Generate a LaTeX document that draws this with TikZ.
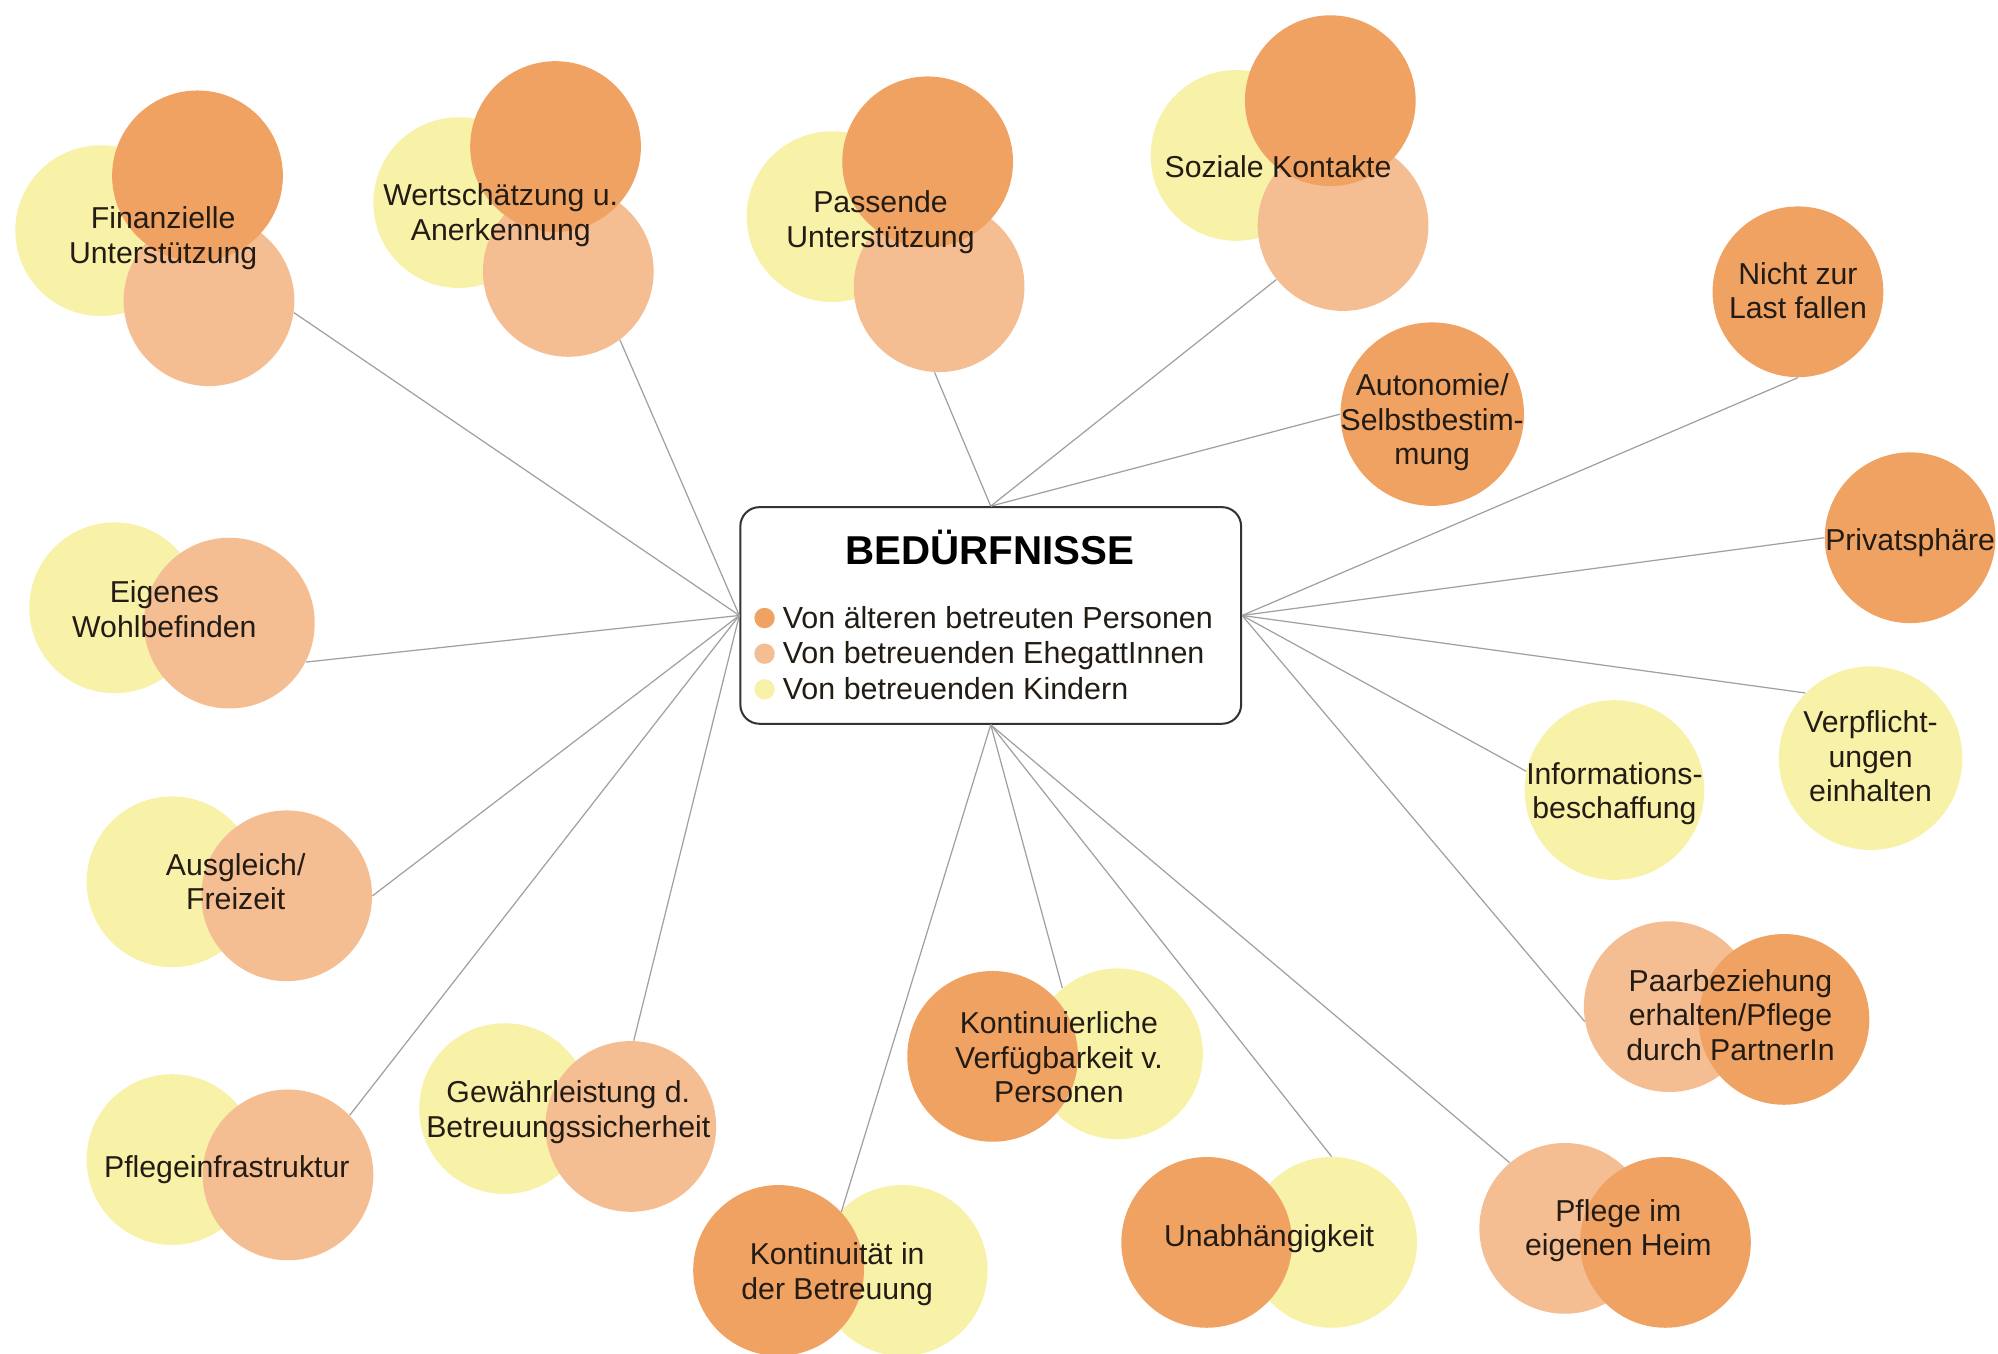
\documentclass[tikz,border=0pt]{standalone}
\usepackage{fontspec}
\setmainfont{Liberation Sans}
\definecolor{pdark}{HTML}{F0A263}
\definecolor{plight}{HTML}{F5BD92}
\definecolor{pyel}{HTML}{F8F1A8}
\definecolor{ink}{HTML}{231C14}
\definecolor{edge}{HTML}{A0A0A0}
\begin{document}
\begin{tikzpicture}[x=0.2mm,y=-0.2mm,
  bub/.style={circle,inner sep=0pt,minimum size=26.8mm},
  dk/.style={bub,fill=pdark},
  lt/.style={bub,fill=plight},
  yl/.style={bub,fill=pyel},
  lbl/.style={align=center,text=ink,font=\fontsize{13.5}{15.4}\selectfont,inner sep=0pt},
  lgd/.style={text=ink,font=\fontsize{13.6}{15.9}\selectfont,inner sep=0pt},
  dot/.style={circle,inner sep=0pt,minimum size=3.2mm},
  conn/.style={draw=edge,line width=0.55pt},
  hubbox/.style={draw=black!80,line width=0.9pt,rounded corners=3mm,fill=white,
                 minimum width=78.6mm,minimum height=34mm,inner sep=0pt},
]
\useasboundingbox (0,0) rectangle (1568,1062);

% --- needs seen from three sides (children, spouses, older persons) ---
\node[yl] (fin-y) at (79,181) {};
\node[lt] (fin-l) at (164,236) {};
\node[dk] (fin-d) at (155,138) {};
\node[lbl] (fin) at (128,187) {Finanzielle\\Unterstützung};

\node[yl] (wert-y) at (360,159) {};
\node[lt] (wert-l) at (446,213) {};
\node[dk] (wert-d) at (436,115) {};
\node[lbl] (wert) at (393,169) {Wertschätzung u.\\Anerkennung};

\node[yl] (pass-y) at (653,170) {};
\node[lt] (pass-l) at (737,225) {};
\node[dk] (pass-d) at (728,127) {};
\node[lbl] (pass) at (691,174.5) {Passende\\Unterstützung};

\node[yl] (soz-y) at (970,122) {};
\node[lt] (soz-l) at (1054,177) {};
\node[dk] (soz-d) at (1044,79) {};
\node[lbl] (soz) at (1003,131) {Soziale Kontakte};

% --- needs of older persons only ---
\node[dk,minimum size=28.8mm] (auto) at (1124,325) {};
\node[lbl] (auto-t) at (1124,331.5) {Autonomie/\\Selbstbestim-\\mung};

\node[dk] (last) at (1411,229) {};
\node[lbl] (last-t) at (1411,228) {Nicht zur\\Last fallen};

\node[dk] (priv) at (1499,422) {};
\node[lbl] (priv-t) at (1499,426) {Privatsphäre};

% --- needs of children only ---
\node[yl,minimum size=28.8mm] (verpf) at (1468,595) {};
\node[lbl] (verpf-t) at (1468,593.5) {Verpflicht-\\ungen\\einhalten};

\node[yl,minimum size=28.2mm] (info) at (1267,620) {};
\node[lbl] (info-t) at (1267,623) {Informations-\\beschaffung};

% --- older persons and spouses ---
\node[lt] (paar-l) at (1310,790) {};
\node[dk] (paar-d) at (1400,800) {};
\node[lbl] (paar) at (1358,796.5) {Paarbeziehung\\erhalten/Pflege\\durch PartnerIn};

\node[lt] (heim-l) at (1228,964) {};
\node[dk] (heim-d) at (1307,975) {};
\node[lbl] (heim) at (1270,966) {Pflege im\\eigenen Heim};

% --- older persons and children ---
\node[yl] (unab-y) at (1045,975) {};
\node[dk] (unab-d) at (947,975) {};
\node[lbl] (unab) at (996,972) {Unabhängigkeit};

\node[yl] (kont-y) at (708,997) {};
\node[dk] (kont-d) at (611,997) {};
\node[lbl] (kont) at (657,1000) {Kontinuität in\\der Betreuung};

\node[yl] (verf-y) at (877,827) {};
\node[dk] (verf-d) at (779,829) {};
\node[lbl] (verf) at (831,830) {Kontinuierliche\\Verfügbarkeit v.\\Personen};

% --- spouses and children ---
\node[yl] (gew-y) at (396,870) {};
\node[lt] (gew-l) at (495,884) {};
\node[lbl] (gew) at (446,873) {Gewährleistung d.\\Betreuungssicherheit};

\node[yl] (pfl-y) at (135,910) {};
\node[lt] (pfl-l) at (226,922) {};
\node[lbl] (pfl) at (178,918) {Pflegeinfrastruktur};

\node[yl] (ausg-y) at (135,692) {};
\node[lt] (ausg-l) at (225,703) {};
\node[lbl] (ausg) at (185,692) {Ausgleich/\\Freizeit};

\node[yl] (eig-y) at (90,477) {};
\node[lt] (eig-l) at (180,489) {};
\node[lbl] (eig) at (129,478) {Eigenes\\Wohlbefinden};

% --- central box with legend ---
\node[hubbox] (hub) at (777.5,483) {};
\node[text=black,font=\bfseries\fontsize{18}{20}\selectfont,inner sep=0pt] (title) at (777,430) {BEDÜRFNISSE};
\node[dot,fill=pdark] (d1) at (600,485) {};
\node[dot,fill=plight] (d2) at (600,513) {};
\node[dot,fill=pyel] (d3) at (600,541) {};
\node[lgd,anchor=base west] (l1) at (614,493) {Von älteren betreuten Personen};
\node[lgd,anchor=base west] (l2) at (614,521) {Von betreuenden EhegattInnen};
\node[lgd,anchor=base west] (l3) at (614,549) {Von betreuenden Kindern};

% --- connectors ---
\draw[conn] (hub.west) -- (fin-l.-8);
\draw[conn] (hub.west) -- (wert-l.-53);
\draw[conn] (hub.west) -- (eig-l.-27);
\draw[conn] (hub.west) -- (ausg-l.0);
\draw[conn] (hub.west) -- (pfl-l.44);
\draw[conn] (hub.west) -- (gew-l.88);
\draw[conn] (hub.north) -- (pass-l.-93);
\draw[conn] (hub.north) -- (soz-l.-141);
\draw[conn] (hub.north) -- (auto.180);
\draw[conn] (hub.east) -- (last.-90);
\draw[conn] (hub.east) -- (priv.180);
\draw[conn] (hub.east) -- (verpf.135);
\draw[conn] (hub.east) -- (info.168);
\draw[conn] (hub.east) -- (paar-l.190);
\draw[conn] (hub.south) -- (kont-d.43);
\draw[conn] (hub.south) -- (verf-y.130);
\draw[conn] (hub.south) -- (unab-y.90);
\draw[conn] (hub.south) -- (heim-l.130);
\end{tikzpicture}
\end{document}
